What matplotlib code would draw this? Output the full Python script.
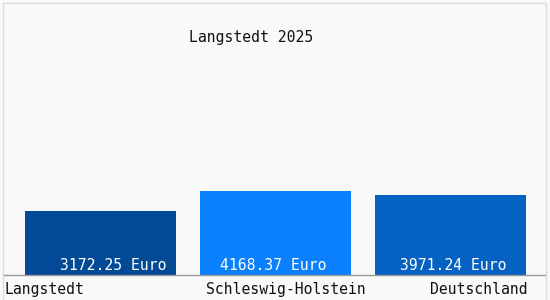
import matplotlib
matplotlib.use("Agg")
import matplotlib.pyplot as plt
from matplotlib.lines import Line2D
from matplotlib.transforms import blended_transform_factory

# data
regions = ["Langstedt", "Schleswig-Holstein", "Deutschland"]
values = [3172.25, 4168.37, 3971.24]
title = "Langstedt 2025"

bar_colors = ["#034a96", "#0a80fc", "#0562c2"]
bg = "#f9f9f9"
mono = "DejaVu Sans Mono"

W, H = 550, 300
fig = plt.figure(figsize=(W / 100, H / 100), dpi=100, facecolor=bg)

# axes box in pixels: x 3..546, y 3..275 (from top)
ax = fig.add_axes([3 / W, 1 - 275 / H, 543 / W, 272 / H], facecolor=bg)

x = list(range(len(values)))
ax.bar(x, values, width=151 / 175, color=bar_colors, zorder=2)
ax.set_xlim(-97.5 / 175, 445.5 / 175)
ax.set_ylim(0, 13500)

ax.set_xticks([])
ax.set_yticks([])
for s in ["left", "right", "top"]:
    ax.spines[s].set_color("#dddddd")
    ax.spines[s].set_linewidth(1)
ax.spines["bottom"].set_color("#999999")
ax.spines["bottom"].set_linewidth(1)

# value labels inside bars, near the bottom
px = 1 / 175
label_shift = [13 * px, -2 * px, 3 * px]
for i, v in enumerate(values):
    ax.text(i + label_shift[i], 2.5 * 13500 / 272, f"{v:.2f} Euro",
            ha="center", va="bottom", color="white", fontsize=10.6,
            family=mono, zorder=3)

# category labels below the baseline
tr = blended_transform_factory(fig.transFigure, fig.transFigure)
cat_pos = [(4 / W, "left"), (285.5 / W, "center"), (528 / W, "right")]
for name, (xp, ha) in zip(regions, cat_pos):
    fig.text(xp, 1 - 294 / H, name, ha=ha, va="baseline",
             fontsize=10.6, family=mono, color="#111111")

fig.text(251.5 / W, 1 - 42 / H, title, ha="center", va="baseline",
         fontsize=10.6, family=mono, color="#111111")

# frame lines continuing down below the axes
for xp in [3 / W, 546 / W]:
    fig.add_artist(Line2D([xp, xp], [0, 1 - 275 / H], color="#dddddd", lw=1))

fig.savefig("out.png", dpi=100, facecolor=bg)
